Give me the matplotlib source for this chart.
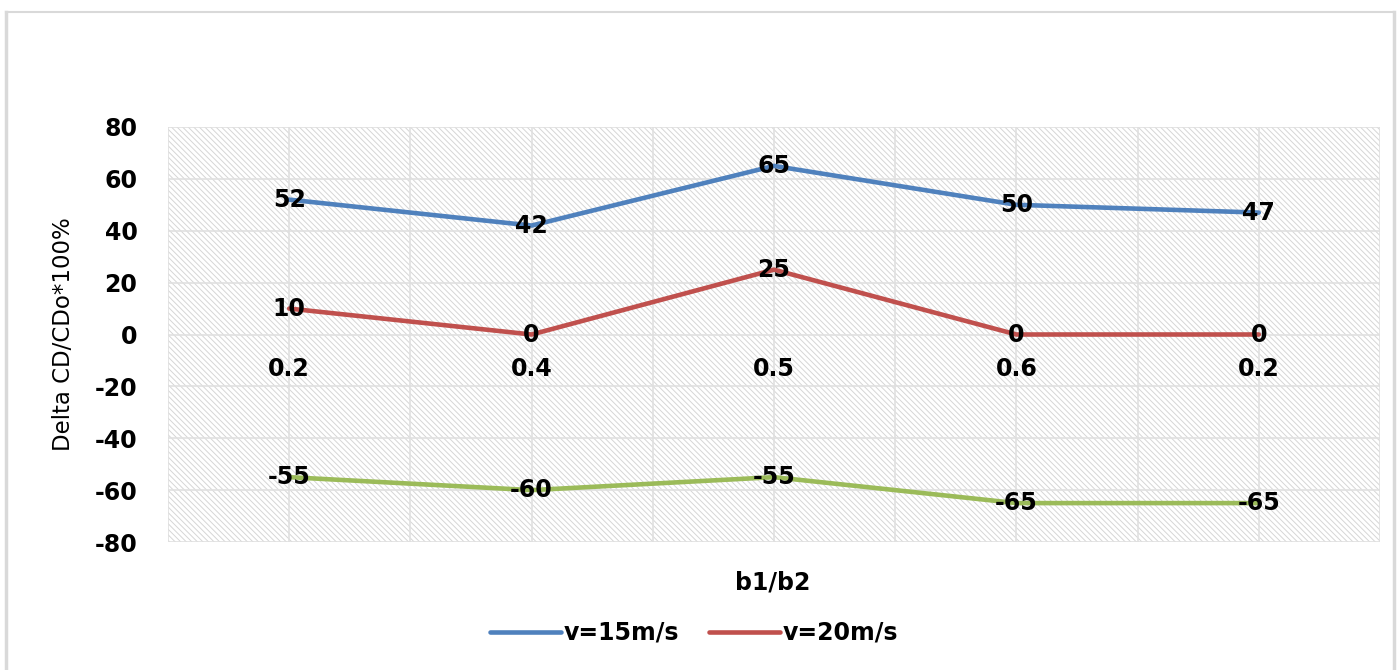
import matplotlib.pyplot as plt
from matplotlib.patches import Rectangle
from matplotlib.lines import Line2D
import numpy as np

plt.rcParams['font.family'] = ['DejaVu Sans']
plt.rcParams['hatch.linewidth'] = 0.7
plt.rcParams['hatch.color'] = '#d6d6d6'

# b1/b2 ratios and Delta CD/CDo values
ratios = ['0.2', '0.4', '0.5', '0.6', '0.2']
v15 = [52, 42, 65, 50, 47]
v20 = [10, 0, 25, 0, 0]
v25 = [-55, -60, -55, -65, -65]

fig = plt.figure(figsize=(14, 6.7), dpi=100)
ax = fig.add_axes([168/1400, 1 - 542/670, (1380-168)/1400, (542-127)/670])

x = np.arange(len(ratios))
ax.set_xlim(-0.5, len(ratios) - 0.5)
ax.set_ylim(-80, 80)

# hatched background
ax.add_patch(Rectangle((0, 0), 1, 1, transform=ax.transAxes, facecolor='white',
                       edgecolor='#d6d6d6', hatch='\\' * 6, linewidth=0, zorder=0))

# grid: horizontal every 20, vertical at centres and category borders
for yv in np.arange(-80, 81, 20):
    ax.axhline(yv, color='#e0e0e0', lw=1.2, zorder=1)
for xv in np.arange(-0.5, len(ratios), 0.5):
    ax.axvline(xv, color='#e0e0e0', lw=1.2, zorder=1)

lines = []
for vals, col, name in [(v15, '#4F81BD', 'v=15m/s'),
                        (v20, '#C0504D', 'v=20m/s'),
                        (v25, '#9BBB59', '_nolegend_')]:
    ln, = ax.plot(x, vals, color=col, lw=3.3, solid_capstyle='round', zorder=3, label=name)
    lines.append(ln)
    for xi, v in zip(x, vals):
        ax.text(xi, v, str(v), ha='center', va='center', fontsize=17,
                fontweight='bold', color='black', zorder=4)

for s in ax.spines.values():
    s.set_visible(False)
ax.spines['bottom'].set_position(('data', 0))
ax.set_xticks(x)
ax.set_xticklabels(ratios, fontsize=17, fontweight='bold')
ax.tick_params(axis='x', length=0, pad=16)
ax.set_yticks(np.arange(-80, 81, 20))
ax.set_yticklabels([str(v) for v in np.arange(-80, 81, 20)], fontsize=17, fontweight='bold')
ax.tick_params(axis='y', length=0, pad=22)

ax.set_ylabel('Delta CD/CDo*100%', fontsize=16.5, labelpad=14)
fig.text(773/1400, 1 - 582/670, 'b1/b2', ha='center', va='center',
         fontsize=17, fontweight='bold')

fig.legend(handles=lines[:2], loc='center', bbox_to_anchor=(694/1400, 1 - 633/670),
           ncol=2, frameon=False, prop={'size': 17, 'weight': 'bold'},
           handlelength=3.0, handletextpad=0.1, columnspacing=1.3)

# outer frame
fc = '#d9d9d9'
fig.add_artist(Line2D([6/1400, 6/1400], [0, 1 - 12/670], color=fc, lw=2.5, transform=fig.transFigure))
fig.add_artist(Line2D([6/1400, 1394/1400], [1 - 12/670, 1 - 12/670], color=fc, lw=1.5, transform=fig.transFigure))
fig.add_artist(Line2D([1394/1400, 1394/1400], [0, 1 - 12/670], color=fc, lw=2.5, transform=fig.transFigure))

fig.savefig('out.png', dpi=100)
